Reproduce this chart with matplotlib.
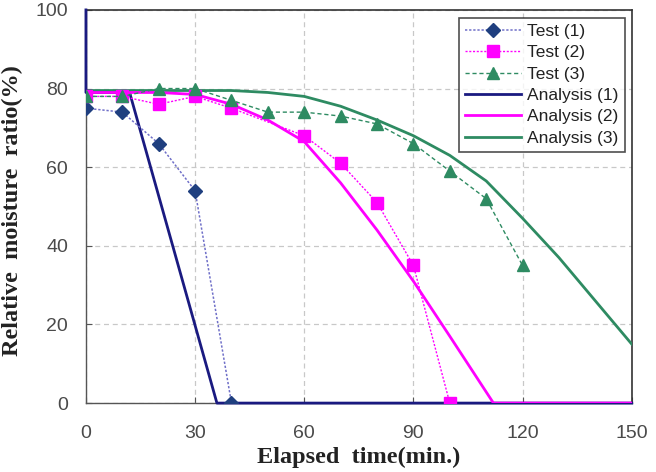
import matplotlib
matplotlib.use("Agg")
import matplotlib.pyplot as plt

# Test data
t1_x = [0, 10, 20, 30, 40]
t1_y = [75, 74, 66, 54, 0]
t2_x = [0, 10, 20, 30, 40, 60, 70, 80, 90, 100]
t2_y = [78, 78, 76, 78, 75, 68, 61, 51, 35, 0]
t3_x = [0, 10, 20, 30, 40, 50, 60, 70, 80, 90, 100, 110, 120]
t3_y = [78, 78, 80, 80, 77, 74, 74, 73, 71, 66, 59, 52, 35]

# Analysis data
a1_x = [0, 0, 12, 36, 150]
a1_y = [100, 79, 79, 0, 0]
a2_x = [0, 10, 20, 30, 40, 50, 60, 70, 80, 90, 100, 112, 150]
a2_y = [79, 79, 79, 78.5, 76, 72, 66.5, 56, 44, 31, 17, 0, 0]
a3_x = [0, 10, 20, 30, 40, 50, 60, 70, 80, 90, 100, 110, 120, 130, 140, 150]
a3_y = [79.5, 79.5, 79.5, 79.5, 79.5, 79, 78, 75.5, 72, 68, 63, 56.5, 47, 37, 26, 15]

x_ticks = [0, 30, 60, 90, 120, 150]
y_ticks = [0, 20, 40, 60, 80, 100]

navy = "#1a1a80"
blue_m = "#1f3f7f"
blue_l = "#6f6fc8"
mag = "#ff00ff"
green = "#2e8b62"

fig = plt.figure(figsize=(6.56, 4.72), dpi=100)
ax = fig.add_axes([0.131, 0.146, 0.832, 0.833])

ax.plot(t1_x, t1_y, linestyle=(0, (1.5, 1.2)), color=blue_l, lw=1.1,
        marker="D", ms=7, mfc=blue_m, mec=blue_m, label="Test (1)", zorder=4)
ax.plot(t2_x, t2_y, linestyle=(0, (1.5, 1.2)), color=mag, lw=1.0,
        marker="s", ms=8, mfc=mag, mec=mag, label="Test (2)", zorder=4)
ax.plot(t3_x, t3_y, linestyle=(0, (3, 2)), color=green, lw=1.0,
        marker="^", ms=8, mfc=green, mec=green, label="Test (3)", zorder=4)
ax.plot(a3_x, a3_y, color=green, lw=2.0, label="Analysis (3)", zorder=3)
ax.plot(a2_x, a2_y, color=mag, lw=2.0, label="Analysis (2)", zorder=3.2)
ax.plot(a1_x, a1_y, color=navy, lw=2.0, label="Analysis (1)", zorder=3.1, clip_on=False)

ax.set_xlim(0, 150)
ax.set_ylim(0, 100)
ax.set_xticks(x_ticks)
ax.set_yticks(y_ticks)
ax.grid(True, linestyle=(0, (4, 3)), color="#c8c8c8", lw=0.9)
ax.set_axisbelow(True)

for side in ["left", "bottom"]:
    ax.spines[side].set_color("#555555")
    ax.spines[side].set_linewidth(1.0)
for side in ["top", "right"]:
    ax.spines[side].set_color("#333333")
    ax.spines[side].set_linewidth(1.2)

ax.tick_params(axis="both", labelsize=14, labelcolor="#4a4a4a", color="#555555",
               length=4, direction="in")
ax.tick_params(axis="x", pad=16)
ax.tick_params(axis="y", pad=13)
for lbl in ax.get_xticklabels() + ax.get_yticklabels():
    lbl.set_family("Liberation Sans")

ax.set_xlabel("Elapsed  time(min.)", fontsize=17.5, family="Liberation Serif",
              fontweight="bold", color="#222222")
ax.set_ylabel("Relative  moisture  ratio(%)", fontsize=17.5, family="Liberation Serif",
              fontweight="bold", color="#222222")
ax.xaxis.set_label_coords(0.5, -0.11)
ax.yaxis.set_label_coords(-0.115, 0.49)

handles, labels = ax.get_legend_handles_labels()
order = ["Test (1)", "Test (2)", "Test (3)", "Analysis (1)", "Analysis (2)", "Analysis (3)"]
hmap = dict(zip(labels, handles))
leg = ax.legend([hmap[k] for k in order], order, loc="upper right",
                bbox_to_anchor=(0.99, 0.985), frameon=True, fancybox=False,
                prop={"family": "Liberation Sans", "size": 12.5},
                edgecolor="#222222", handlelength=3.2, borderpad=0.35, labelspacing=0.36,
                handletextpad=0.35, borderaxespad=0.1)
leg.get_frame().set_linewidth(1.2)
for txt in leg.get_texts():
    txt.set_color("#222222")

fig.savefig("out.png", dpi=100)
